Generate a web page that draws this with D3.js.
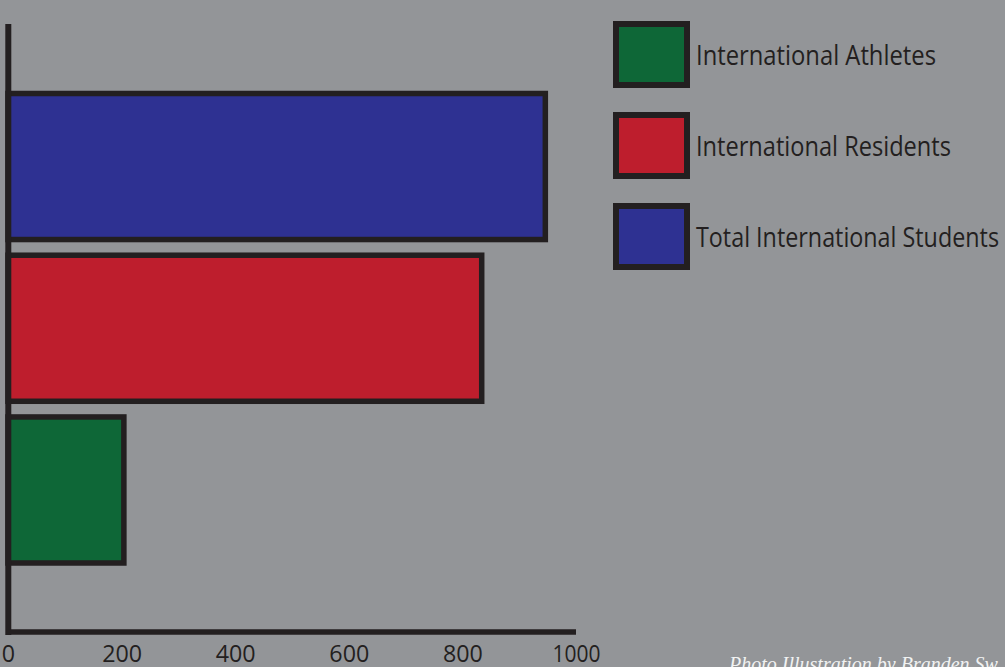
<!DOCTYPE html>
<html>
<head>
<meta charset="utf-8">
<script src="https://cdn.jsdelivr.net/npm/d3@7"></script>
<style>
  html, body { margin: 0; padding: 0; background: #939598; overflow: hidden; }
  svg { display: block; }
</style>
</head>
<body>
<svg id="chart" width="1005" height="667"></svg>
<script>
// ---- data ----
const categories = ["Total International Students", "International Residents", "International Athletes"];
const values = [946, 834, 204];
const legendLabels = ["International Athletes", "International Residents", "Total International Students"];
const tickValues = [0, 200, 400, 600, 800, 1000];

// ---- styles ----
const colorMap = {
  "International Athletes": "#0e6737",
  "International Residents": "#be1e2d",
  "Total International Students": "#2e3192"
};
const ink = "#231f20";

const svg = d3.select("#chart");
svg.append("rect").attr("width", 1005).attr("height", 667).attr("fill", "#939598");

const x = d3.scaleLinear().domain([0, 1000]).range([8, 576]);
const y = d3.scaleBand().domain(categories).range([93.5, 563]).paddingInner(0.097).paddingOuter(0);

// bars
svg.selectAll("rect.bar")
  .data(categories)
  .join("rect")
  .attr("class", "bar")
  .attr("x", x(0))
  .attr("y", d => y(d))
  .attr("width", (d, i) => x(values[i]) - x(0))
  .attr("height", y.bandwidth())
  .attr("fill", d => colorMap[d])
  .attr("stroke", ink)
  .attr("stroke-width", 5.5);

// y axis line
svg.append("line")
  .attr("x1", 8.3).attr("x2", 8.3)
  .attr("y1", 24).attr("y2", 635)
  .attr("stroke", ink).attr("stroke-width", 6);

// x axis
const xAxis = d3.axisBottom(x).tickValues(tickValues).tickSize(0).tickPadding(0).tickFormat(d3.format("d"));
const gx = svg.append("g").attr("transform", "translate(0,632)").call(xAxis);
gx.select(".domain").attr("stroke", ink).attr("stroke-width", 5.5).attr("d", `M${x(0)},0H${x(1000)}`);
gx.selectAll(".tick text")
  .attr("y", 0)
  .attr("dy", 0)
  .attr("transform", "translate(0,29.5)")
  .attr("fill", ink)
  .style("font-family", "'Open Sans', sans-serif")
  .style("font-size", "23px")
  .attr("textLength", d => d >= 1000 ? 48 : String(d).length * 13.3)
  .attr("lengthAdjust", "spacingAndGlyphs");

// legend
const legendWidths = [240, 255, 303];
const lg = svg.append("g");
const items = lg.selectAll("g.item")
  .data(legendLabels)
  .join("g")
  .attr("class", "item")
  .attr("transform", (d, i) => `translate(0, ${i * 91})`);
items.append("rect")
  .attr("x", 616).attr("y", 24)
  .attr("width", 71).attr("height", 61)
  .attr("fill", d => colorMap[d])
  .attr("stroke", ink).attr("stroke-width", 6);
items.append("text")
  .attr("x", 696).attr("y", 65)
  .attr("fill", ink)
  .style("font-family", "'Open Sans', sans-serif")
  .style("font-size", "27px")
  .attr("textLength", (d, i) => legendWidths[i])
  .attr("lengthAdjust", "spacingAndGlyphs")
  .text(d => d);

// credit (cut off by the frame edge, as in the reference)
svg.append("text")
  .attr("x", 729).attr("y", 671)
  .attr("fill", "#f1f2f2")
  .style("font-family", "'Liberation Serif', serif")
  .style("font-style", "italic")
  .style("font-size", "20px")
  .text("Photo Illustration by Branden Sw");
</script>
</body>
</html>
